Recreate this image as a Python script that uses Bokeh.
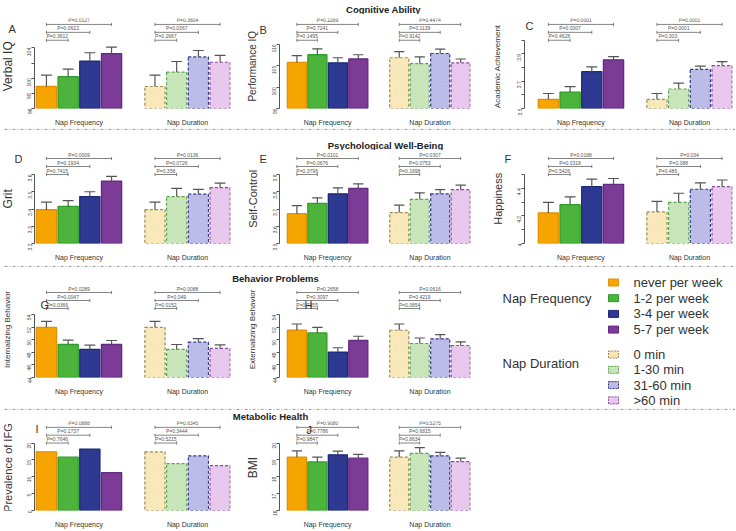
import math
from bokeh.plotting import figure
from bokeh.layouts import column, row
from bokeh.models import Range1d, FixedTicker, Label
from bokeh.core.properties import value
from bokeh.embed import file_html
from bokeh.resources import INLINE

# ---------------- data ----------------
freq_labels = ["never per week", "1-2 per week", "3-4 per week", "5-7 per week"]
dur_labels = ["0 min", "1-30 min", "31-60 min", ">60 min"]
group_labels = ["Nap Frequency", "Nap Duration"]
section_titles = ["Cognitive Ability", "Psychological Well-Being", "Behavior Problems", "Metabolic Health"]

# A  Verbal IQ
verbal_freq = [98.9, 100.2, 102.25, 103.25]
verbal_freq_se = [1.5, 1.0, 1.1, 0.85]
verbal_dur = [98.9, 100.8, 102.8, 102.1]
verbal_dur_se = [1.5, 1.4, 0.85, 0.9]
verbal_p_freq = ["P=0.3612", "P=0.0622", "P=0.0127"]
verbal_p_dur = ["P=0.2667", "P=0.0367", "P=0.3604"]
verbal_ticks = [96, 98, 100, 102, 104]

# B  Performance IQ
perf_freq = [105.8, 107.6, 105.7, 106.6]
perf_freq_se = [1.6, 1.4, 1.2, 1.0]
perf_dur = [106.9, 105.5, 107.9, 105.7]
perf_dur_se = [1.45, 1.6, 1.0, 0.9]
perf_p_freq = ["P=0.1495", "P=0.7241", "P=0.2269"]
perf_p_dur = ["P=0.9142", "P=0.1139", "P=0.4474"]
perf_ticks = [95, 100, 105, 110]

# C  Academic Achievement
acad_freq = [3.567, 3.62, 3.77, 3.857]
acad_freq_se = [0.043, 0.04, 0.035, 0.023]
acad_dur = [3.567, 3.643, 3.786, 3.814]
acad_dur_se = [0.043, 0.043, 0.024, 0.029]
acad_p_freq = ["P=0.4628", "P=0.0007", "P=0.0001"]
acad_p_dur = ["P=0.303", "P=0.0001", "P=0.0001"]
acad_ticks = [3.5, 3.6, 3.7, 3.8, 3.9, 4.0]

# D  Grit
grit_freq = [3.396, 3.415, 3.472, 3.562]
grit_freq_se = [0.044, 0.033, 0.028, 0.027]
grit_dur = [3.396, 3.472, 3.486, 3.524]
grit_dur_se = [0.044, 0.048, 0.028, 0.026]
grit_p_freq = ["P=0.7415", "P=0.1934", "P=0.0009"]
grit_p_dur = ["P=0.358", "P=0.0726", "P=0.0136"]
grit_ticks = [3.2, 3.3, 3.4, 3.5, 3.6]

# E  Self-Control
self_freq = [3.673, 3.733, 3.788, 3.82]
self_freq_se = [0.047, 0.032, 0.035, 0.026]
self_dur = [3.679, 3.756, 3.788, 3.812]
self_dur_se = [0.044, 0.038, 0.024, 0.026]
self_p_freq = ["P=0.3796", "P=0.0676", "P=0.0101"]
self_p_dur = ["P=0.1698", "P=0.0753", "P=0.0307"]
self_ticks = [3.5, 3.6, 3.7, 3.8, 3.9]

# F  Happiness
happy_freq = [4.221, 4.281, 4.412, 4.429]
happy_freq_se = [0.077, 0.057, 0.055, 0.042]
happy_dur = [4.229, 4.298, 4.393, 4.412]
happy_dur_se = [0.076, 0.066, 0.047, 0.048]
happy_p_freq = ["P=0.5426", "P=0.0318", "P=0.0188"]
happy_p_dur = ["P=0.486", "P=0.088", "P=0.034"]
happy_ticks = [4.0, 4.1, 4.2, 4.3, 4.4, 4.5]

# G  Internalizing Behavior
int_freq = [52.0, 49.26, 48.47, 49.26]
int_freq_se = [0.95, 0.69, 0.69, 0.64]
int_dur = [52.0, 48.47, 49.63, 48.63]
int_dur_se = [0.95, 0.79, 0.57, 0.57]
int_p_freq = ["P=0.0366", "P=0.0047", "P=0.0289"]
int_p_dur = ["P=0.0152", "P=0.049", "P=0.0088"]
int_ticks = [44, 46, 48, 50, 52, 54]

# H  Externalizing Behavior
ext_freq = [51.53, 51.1, 48.05, 49.9]
ext_freq_se = [1.0, 0.9, 0.69, 0.68]
ext_dur = [51.53, 49.42, 50.16, 49.1]
ext_dur_se = [1.0, 0.88, 0.68, 0.58]
ext_p_freq = ["P=0.7355", "P=0.3097", "P=0.2658"]
ext_p_dur = ["P=0.0654", "P=0.4219", "P=0.0616"]
ext_ticks = [44, 46, 48, 50, 52, 54]

# I  Prevalence of IFG (no error bars)
ifg_freq = [17.4, 15.8, 18.2, 11.2]
ifg_dur = [17.4, 13.9, 16.2, 13.3]
ifg_p_freq = ["P=0.7646", "P=0.1737", "P=0.0888"]
ifg_p_dur = ["P=0.5215", "P=0.3444", "P=0.6345"]
ifg_ticks = [0, 5, 10, 15, 20]

# J  BMI
bmi_freq = [19.16, 18.88, 19.3, 19.1]
bmi_freq_se = [0.38, 0.28, 0.22, 0.23]
bmi_dur = [19.16, 19.39, 19.24, 18.9]
bmi_dur_se = [0.38, 0.34, 0.21, 0.2]
bmi_p_freq = ["P=0.9847", "P=0.7786", "P=0.9080"]
bmi_p_dur = ["P=0.8634", "P=0.6815", "P=0.5275"]
bmi_ticks = [16, 17, 18, 19, 20]

panels = [
    dict(letter="A", ylabel="Verbal IQ", ylim=(96, 105), ticks=verbal_ticks, hide=[102],
         freq=verbal_freq, freq_se=verbal_freq_se, dur=verbal_dur, dur_se=verbal_dur_se,
         p_freq=verbal_p_freq, p_dur=verbal_p_dur),
    dict(letter="B", ylabel="Performance IQ", ylim=(95, 111), ticks=perf_ticks, hide=[],
         freq=perf_freq, freq_se=perf_freq_se, dur=perf_dur, dur_se=perf_dur_se,
         p_freq=perf_p_freq, p_dur=perf_p_dur),
    dict(letter="C", ylabel="Academic Achievement", ylim=(3.5, 4.0), ticks=acad_ticks, hide=[3.6, 3.8, 4.0],
         freq=acad_freq, freq_se=acad_freq_se, dur=acad_dur, dur_se=acad_dur_se,
         p_freq=acad_p_freq, p_dur=acad_p_dur),
    dict(letter="D", ylabel="Grit", ylim=(3.2, 3.6), ticks=grit_ticks, hide=[],
         freq=grit_freq, freq_se=grit_freq_se, dur=grit_dur, dur_se=grit_dur_se,
         p_freq=grit_p_freq, p_dur=grit_p_dur),
    dict(letter="E", ylabel="Self-Control", ylim=(3.5, 3.9), ticks=self_ticks, hide=[],
         freq=self_freq, freq_se=self_freq_se, dur=self_dur, dur_se=self_dur_se,
         p_freq=self_p_freq, p_dur=self_p_dur),
    dict(letter="F", ylabel="Happiness", ylim=(4.0, 4.5), ticks=happy_ticks, hide=[4.1, 4.3, 4.5],
         freq=happy_freq, freq_se=happy_freq_se, dur=happy_dur, dur_se=happy_dur_se,
         p_freq=happy_p_freq, p_dur=happy_p_dur),
    dict(letter="G", ylabel="Internalizing Behavior", ylim=(44, 55), ticks=int_ticks, hide=[],
         freq=int_freq, freq_se=int_freq_se, dur=int_dur, dur_se=int_dur_se,
         p_freq=int_p_freq, p_dur=int_p_dur),
    dict(letter="H", ylabel="Externalizing Behavior", ylim=(44, 55), ticks=ext_ticks, hide=[],
         freq=ext_freq, freq_se=ext_freq_se, dur=ext_dur, dur_se=ext_dur_se,
         p_freq=ext_p_freq, p_dur=ext_p_dur),
    dict(letter="I", ylabel="Prevalence of IFG", ylim=(0, 20), ticks=ifg_ticks, hide=[],
         freq=ifg_freq, freq_se=None, dur=ifg_dur, dur_se=None,
         p_freq=ifg_p_freq, p_dur=ifg_p_dur),
    dict(letter="J", ylabel="BMI", ylim=(16, 20), ticks=bmi_ticks, hide=[],
         freq=bmi_freq, freq_se=bmi_freq_se, dur=bmi_dur, dur_se=bmi_dur_se,
         p_freq=bmi_p_freq, p_dur=bmi_p_dur),
]

# ---------------- styles / layout ----------------
FONT = "Liberation Sans"
FREQ_FILL = ["#F6A400", "#4CB43A", "#2E3992", "#7C3B97"]
FREQ_LINE = ["#E39100", "#2F9E2C", "#1E2877", "#622A80"]
DUR_FILL = ["#FCEFC9", "#D4EBC8", "#C8C8EE", "#EFD3F2"]
DUR_HATCH = ["#F1D998", "#AFD99D", "#A2A2DC", "#DBAEE3"]
DUR_LINE = ["#9E8A5A", "#5AA54B", "#33378E", "#8C4E9F"]
AX_COL = "#555555"
TXT_COL = "#333333"
SEP_COL = "#8C8C8C"

YLIM_PX = 69      # pixels covered by the y limits
PANEL_W = 245
LAB_W = 22        # narrow strip left of each panel: y label + letter
AXIS_X = 33       # x of the y axis inside a panel

label_sizes = ["12px", "10px", "8px", "12px", "11px", "11px", "8px", "8px", "11px", "12px"]
# letter position: x from panel's left edge, y in px above the top y limit
letter_pos = [(8, 13), (14, 12), (27, 14), (21, 16), (17, 16), (23, 16),
              (39, 4), (58, 4), (32, 14), (60, 13)]
col_cfg = [dict(x0=-0.55, x1=8.48, right=15), dict(x0=-0.85, x1=8.48, right=20),
           dict(x0=-1.1, x1=8.48, right=3)]
row_cfg = [dict(strip=14, top=4, head=22, bottom=19, title_x=383, title_y=9, sep=False, strip_w=735),
           dict(strip=22, top=2, head=22, bottom=22, title_x=385, title_y=17, sep=True, strip_w=735),
           dict(strip=19, top=2, head=22, bottom=31, title_x=275, title_y=13, sep=True, strip_w=490),
           dict(strip=13, top=0, head=22, bottom=18, title_x=270, title_y=7.5, sep=True, strip_w=735)]

freq_x = list(range(4))
dur_x = [i + 5 for i in range(4)]
BAR_W = 0.93


def base_fig(w, h, xr, yr, **kw):
    p = figure(width=w, height=h, x_range=xr, y_range=yr, output_backend="svg",
               toolbar_location=None, **kw)
    p.xgrid.visible = False
    p.ygrid.visible = False
    p.outline_line_color = None
    p.background_fill_color = "white"
    p.border_fill_color = "white"
    return p


def make_panel(i, col, rc):
    spec = panels[i]
    lo, hi = spec["ylim"]
    dpp = (hi - lo) / YLIM_PX
    frame_h = rc["head"] + YLIM_PX
    h = rc["top"] + frame_h + rc["bottom"]
    cc = col_cfg[col]

    # ---- narrow label strip (y label + letter), same vertical scale as the plot ----
    lab = base_fig(LAB_W, h, Range1d(0, LAB_W),
                   Range1d(lo - rc["bottom"] * dpp, lo + (frame_h + rc["top"]) * dpp), min_border=0)
    lab.axis.visible = False
    lab.text(x=[7], y=[(lo + hi) / 2], text=[spec["ylabel"]], angle=math.pi / 2,
             text_font=value(FONT), text_font_size=label_sizes[i], text_color=TXT_COL,
             text_align="center", text_baseline="middle")

    # ---- main plot ----
    p = base_fig(PANEL_W - LAB_W, h, Range1d(cc["x0"], cc["x1"]), Range1d(lo, lo + dpp * frame_h),
                 min_border_left=AXIS_X - LAB_W, min_border_right=cc["right"],
                 min_border_top=rc["top"], min_border_bottom=rc["bottom"])

    p.vbar(x=freq_x, top=spec["freq"], bottom=lo, width=BAR_W, fill_color=FREQ_FILL,
           line_color=FREQ_LINE, line_width=1.3)
    p.vbar(x=dur_x, top=spec["dur"], bottom=lo, width=BAR_W, fill_color=DUR_FILL,
           line_color=DUR_LINE, line_width=1.2, line_dash="3 2",
           hatch_pattern="\\", hatch_color=DUR_HATCH, hatch_scale=3.5, hatch_weight=0.6)

    if spec["freq_se"] is not None:
        xs = freq_x + dur_x
        ms = spec["freq"] + spec["dur"]
        tops = [m + s for m, s in zip(ms, spec["freq_se"] + spec["dur_se"])]
        p.segment(x0=xs, y0=ms, x1=xs, y1=tops, line_color=AX_COL, line_width=1.2)
        p.segment(x0=[x - 0.25 for x in xs], y0=tops, x1=[x + 0.25 for x in xs], y1=tops,
                  line_color=AX_COL, line_width=1.2)

    bx0, bx1, by, tx, ty, tt = [], [], [], [], [], []
    for grp, pv in ((freq_x, spec["p_freq"]), (dur_x, spec["p_dur"])):
        for k in range(1, 4):
            y = hi + (k - 1) * 8 * dpp
            bx0.append(grp[0]); bx1.append(grp[k]); by.append(y)
            tx.append((grp[0] + grp[k]) / 2); ty.append(y + 1.0 * dpp); tt.append(pv[k - 1])
    p.segment(x0=bx0, y0=by, x1=bx1, y1=by, line_color="#666666", line_width=0.8)
    ex = bx0 + bx1
    ey = by + by
    p.segment(x0=ex, y0=[y - 1.6 * dpp for y in ey], x1=ex, y1=[y + 1.6 * dpp for y in ey],
              line_color="#666666", line_width=0.8)
    p.text(x=tx, y=ty, text=tt, text_font=value(FONT), text_font_size="5px",
           text_color="#555555", text_align="center", text_baseline="bottom")

    ya = p.yaxis[0]
    ya.ticker = FixedTicker(ticks=spec["ticks"])
    ya.bounds = (spec["ticks"][0], spec["ticks"][-1])
    ya.major_label_overrides = {t: "" for t in spec["hide"]}
    ya.major_label_orientation = math.pi / 2
    ya.axis_line_color = AX_COL
    ya.major_tick_line_color = AX_COL
    ya.minor_tick_line_color = None
    ya.major_tick_out = 3
    ya.major_tick_in = 0
    ya.minor_tick_out = 0
    ya.minor_tick_in = 0
    ya.major_label_text_font = FONT
    ya.major_label_text_font_size = "5px"
    ya.major_label_text_color = "#444444"
    ya.major_label_standoff = 2

    xa = p.xaxis[0]
    centers = [sum(freq_x) / 4, sum(dur_x) / 4]
    xa.ticker = FixedTicker(ticks=centers)
    xa.major_label_overrides = {c: g for c, g in zip(centers, group_labels)}
    xa.axis_line_color = None
    xa.major_tick_line_color = None
    xa.minor_tick_line_color = None
    xa.major_tick_out = 0
    xa.major_tick_in = 0
    xa.minor_tick_out = 0
    xa.minor_tick_in = 0
    xa.major_label_text_font = FONT
    xa.major_label_text_font_size = "7px"
    xa.major_label_text_color = TXT_COL
    xa.major_label_standoff = 10

    # panel letter: in the label strip if it lies left of the axis, else inside the plot
    lx, ldy = letter_pos[i]
    ly = hi + ldy * dpp
    in_lab = min(lx, LAB_W - 8)
    in_plot = max(lx, AXIS_X + 1)
    if abs(in_lab - lx) <= abs(in_plot - lx):
        lab.text(x=[in_lab], y=[ly], text=[spec["letter"]], text_font=value(FONT),
                 text_font_size="11px", text_color=TXT_COL, text_baseline="middle",
                 text_align="left")
    else:
        p.add_layout(Label(x=in_plot - AXIS_X, x_units="screen", y=ly, y_units="data",
                           text=spec["letter"], text_font=FONT, text_font_size="11px",
                           text_color=TXT_COL, text_baseline="middle", text_align="left"))
    return row(lab, p, spacing=0)


def make_strip(ri):
    rc = row_cfg[ri]
    w, h = rc["strip_w"], rc["strip"]
    s = base_fig(w, h, Range1d(0, w), Range1d(h, 0), min_border=0)
    s.axis.visible = False
    if rc["sep"]:
        s.line(x=[4, w], y=[0.8, 0.8], line_color=SEP_COL, line_width=1, line_dash="3 2 1 2")
    s.text(x=[rc["title_x"]], y=[rc["title_y"]], text=[section_titles[ri]],
           text_font=value(FONT), text_font_size="9.5px", text_font_style="bold",
           text_color="#222222", text_align="center", text_baseline="middle")
    return s


def make_legend(h):
    w = PANEL_W
    g = base_fig(w, h, Range1d(0, w), Range1d(h, 0), min_border=0)
    g.axis.visible = False
    g.line(x=[0, w - 2], y=[0.8, 0.8], line_color=SEP_COL, line_width=1, line_dash="3 2 1 2")
    fy = [17 + 15.7 * k for k in range(4)]
    dy = [89 + 15.3 * k for k in range(4)]
    g.text(x=[12, 12], y=[33, 98], text=group_labels, text_font=value(FONT),
           text_font_size="13px", text_color=TXT_COL, text_baseline="middle")
    g.rect(x=[123] * 4, y=fy, width=10, height=7, fill_color=FREQ_FILL, line_color=FREQ_LINE,
           line_width=1)
    g.rect(x=[123] * 4, y=dy, width=10, height=7, fill_color=DUR_FILL, line_color=DUR_LINE,
           line_width=1, line_dash="2 1", hatch_pattern="\\", hatch_color=DUR_HATCH,
           hatch_scale=3, hatch_weight=0.6)
    g.text(x=[143] * 4, y=fy, text=freq_labels, text_font=value(FONT), text_font_size="13px",
           text_color=TXT_COL, text_baseline="middle")
    g.text(x=[143] * 4, y=dy, text=dur_labels, text_font=value(FONT), text_font_size="13px",
           text_color=TXT_COL, text_baseline="middle")
    return g


rc = row_cfg
r1 = column(make_strip(0), row(*[make_panel(i, i, rc[0]) for i in range(3)], spacing=0), spacing=0)
r2 = column(make_strip(1), row(*[make_panel(3 + i, i, rc[1]) for i in range(3)], spacing=0), spacing=0)
r3_left = column(make_strip(2), row(make_panel(6, 0, rc[2]), make_panel(7, 1, rc[2]), spacing=0),
                 spacing=0)
r3_h = rc[2]["strip"] + rc[2]["top"] + rc[2]["head"] + YLIM_PX + rc[2]["bottom"]
r3 = row(r3_left, make_legend(r3_h), spacing=0)
r4 = column(make_strip(3), row(make_panel(8, 0, rc[3]), make_panel(9, 1, rc[3]), spacing=0), spacing=0)
layout = column(r1, r2, r3, r4, spacing=0)

open("out.html", "w").write(file_html(layout, INLINE))
